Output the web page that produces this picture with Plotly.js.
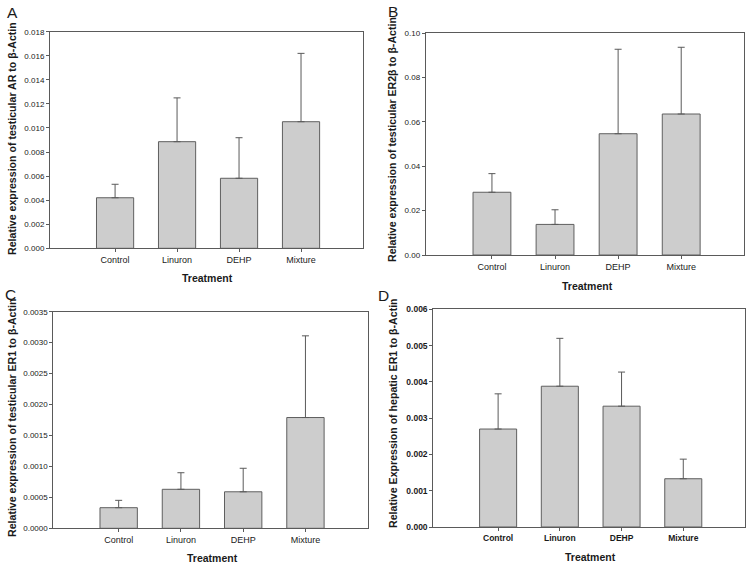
<!DOCTYPE html>
<html>
<head>
<meta charset="utf-8">
<script src="https://cdn.plot.ly/plotly-3.0.1.min.js"></script>
<style>html,body{margin:0;padding:0;background:#fff;}#chart{width:751px;height:568px;}</style>
</head>
<body>
<div id="chart"></div>
<script>
// ---- Data ----
const categories = ['Control', 'Linuron', 'DEHP', 'Mixture'];

// A: testicular AR
const arMean = [0.0042, 0.00886, 0.00582, 0.01052];
const arErr  = [0.00112, 0.00364, 0.00337, 0.00568];

// B: testicular ER2beta
const er2bMean = [0.0283, 0.0138, 0.0547, 0.0636];
const er2bErr  = [0.0084, 0.0066, 0.0381, 0.0301];

// C: testicular ER1
const er1TestMean = [0.000333, 0.00063, 0.00059, 0.00179];
const er1TestErr  = [0.000119, 0.000268, 0.00038, 0.00132];

// D: hepatic ER1
const er1HepMean = [0.0027, 0.00388, 0.00333, 0.00133];
const er1HepErr  = [0.00097, 0.00132, 0.00094, 0.00054];

const yTitles = [
  'Relative expression of testicular AR to β-Actin',
  'Relative expression of testicular ER2β to β-Actin',
  'Relative expression of testicular ER1 to β-Actin',
  'Relative Expression of hepatic ER1 to β-Actin'
];
const panelLetters = ['A', 'B', 'C', 'D'];
const xTitle = 'Treatment';

// ---- Layout helpers ----
const W = 751, H = 568;
const FONT = 'Liberation Sans, Arial, sans-serif';
const px = v => v / W;
const py = v => 1 - v / H;

function barTrace(y, err, xa, ya) {
  return {
    type: 'bar', x: categories, y: y, xaxis: xa, yaxis: ya,
    width: 0.6,
    marker: {color: '#cdcdcd', line: {color: '#5f5f5f', width: 1}},
    error_y: {type: 'data', symmetric: false, array: err, arrayminus: err.map(() => 0),
              color: '#5a5a5a', thickness: 1, width: 3.5},
    showlegend: false, hoverinfo: 'x+y'
  };
}

const data = [
  barTrace(arMean, arErr, 'x', 'y'),
  barTrace(er2bMean, er2bErr, 'x2', 'y2'),
  barTrace(er1TestMean, er1TestErr, 'x3', 'y3'),
  barTrace(er1HepMean, er1HepErr, 'x4', 'y4')
];

function xAxis(anchor, left, right, bold) {
  return {
    domain: [px(left), px(right)], anchor: anchor,
    type: 'category', range: [-1.05, 4.0],
    showline: true, mirror: true, linecolor: '#5a5a5a', linewidth: 1,
    ticks: 'outside', ticklen: 3, tickcolor: '#5a5a5a', tickwidth: 1,
    showgrid: false, zeroline: false,
    tickfont: {family: FONT, size: bold ? 8.5 : 9, color: '#1a1a1a', weight: bold ? 'bold' : 'normal'}
  };
}
function yAxis(anchor, top, bottom, range, dtick, fmt, bold) {
  return {
    domain: [py(bottom), py(top)], anchor: anchor,
    range: range, dtick: dtick, tick0: 0, tickformat: fmt,
    showline: true, mirror: true, linecolor: '#5a5a5a', linewidth: 1,
    ticks: 'outside', ticklen: 3, tickcolor: '#5a5a5a', tickwidth: 1,
    showgrid: false, zeroline: false,
    tickfont: {family: FONT, size: bold ? 8.5 : 8, color: '#1a1a1a', weight: bold ? 'bold' : 'normal'}
  };
}

const boxes = [
  {l: 50, r: 363, t: 31.7, b: 248.3},
  {l: 425.7, r: 744.3, t: 33.3, b: 255},
  {l: 53.3, r: 367.7, t: 311.7, b: 528.3},
  {l: 433.3, r: 745, t: 309.3, b: 527}
];

const layout = {
  width: W, height: H,
  margin: {l: 0, r: 0, t: 0, b: 0},
  paper_bgcolor: '#ffffff', plot_bgcolor: '#ffffff',
  xaxis:  xAxis('y',  boxes[0].l, boxes[0].r, false),
  yaxis:  yAxis('x',  boxes[0].t, boxes[0].b, [0, 0.018], 0.002, '.3f', false),
  xaxis2: xAxis('y2', boxes[1].l, boxes[1].r, false),
  yaxis2: yAxis('x2', boxes[1].t, boxes[1].b, [0, 0.10], 0.02, '.2f', false),
  xaxis3: xAxis('y3', boxes[2].l, boxes[2].r, false),
  yaxis3: yAxis('x3', boxes[2].t, boxes[2].b, [0, 0.0035], 0.0005, '.4f', false),
  xaxis4: xAxis('y4', boxes[3].l, boxes[3].r, true),
  yaxis4: yAxis('x4', boxes[3].t, boxes[3].b, [0, 0.006], 0.001, '.3f', true),
  annotations: []
};

// y titles
const yTitlePos = [{x: 12, y: 139}, {x: 392, y: 140}, {x: 12, y: 418}, {x: 393, y: 413}];
yTitles.forEach((t, i) => {
  layout.annotations.push({
    text: t, xref: 'paper', yref: 'paper', x: px(yTitlePos[i].x), y: py(yTitlePos[i].y),
    xanchor: 'center', yanchor: 'middle', textangle: -90, showarrow: false,
    font: {family: FONT, size: 10.6, color: '#1a1a1a', weight: 'bold'}
  });
});
// x titles
const xTitlePos = [{x: 207.5, y: 278}, {x: 587, y: 286}, {x: 212.7, y: 558}, {x: 590, y: 557}];
xTitlePos.forEach(p => {
  layout.annotations.push({
    text: xTitle, xref: 'paper', yref: 'paper', x: px(p.x), y: py(p.y),
    xanchor: 'center', yanchor: 'middle', showarrow: false,
    font: {family: FONT, size: 10.5, color: '#1a1a1a', weight: 'bold'}
  });
});
// panel letters
const letterPos = [{x: 12, y: 12.5}, {x: 392.7, y: 11.3}, {x: 10, y: 294}, {x: 383.7, y: 295.5}];
panelLetters.forEach((t, i) => {
  layout.annotations.push({
    text: t, xref: 'paper', yref: 'paper', x: px(letterPos[i].x), y: py(letterPos[i].y),
    xanchor: 'center', yanchor: 'middle', showarrow: false,
    font: {family: FONT, size: 15.5, color: '#1a1a1a'}
  });
});

Plotly.newPlot('chart', data, layout, {displayModeBar: false, staticPlot: true});
</script>
</body>
</html>
